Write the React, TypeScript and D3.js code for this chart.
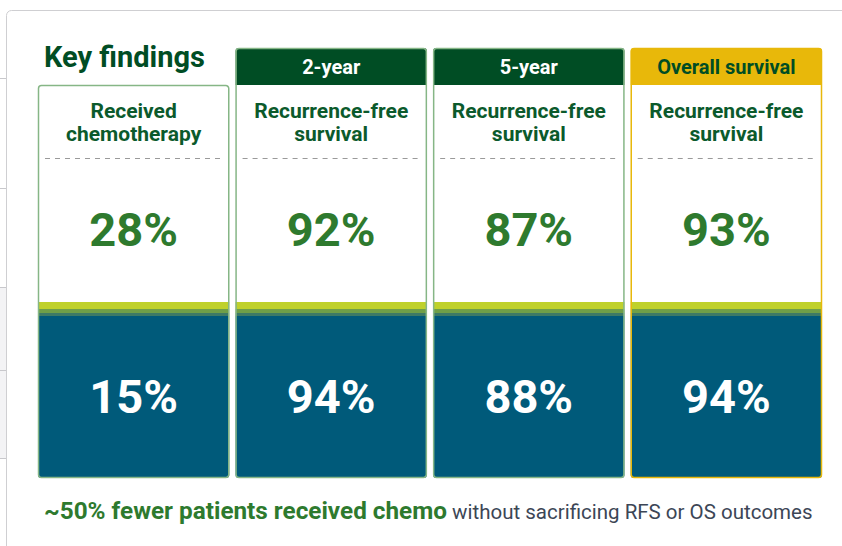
import React from 'react';
import * as d3 from 'd3';

const WIDTH = 842;
const HEIGHT = 546;

// data
const categories = ['chemo', 'rfs2', 'rfs5', 'os'];
const headers = ['', '2-year', '5-year', 'Overall survival'];
const subheads = [
  ['Received', 'chemotherapy'],
  ['Recurrence-free', 'survival'],
  ['Recurrence-free', 'survival'],
  ['Recurrence-free', 'survival'],
];
const topValues = [28, 92, 87, 93];
const bottomValues = [15, 94, 88, 94];
const sideLines = [78, 188, 287, 370, 458];

const FONT = "Roboto, 'Open Sans', sans-serif";
const DARK_GREEN = '#004d24';
const TEXT_GREEN = '#0b5a2c';
const VALUE_GREEN = '#2e7a2e';
const BLUE = '#005a7a';
const YELLOW = '#e8b80a';
const BORDER_GREEN = '#86b686';

const HEADER_TOP = 48;
const BOX_TOP = 85;
const BOX_BOTTOM = 478;
const STRIPE_TOP = 302;

// rounded rect path with per-corner radius flags
function roundPath(x: number, y: number, w: number, h: number, r: number, top: boolean, bottom: boolean) {
  const p = d3.path();
  const rt = top ? r : 0;
  const rb = bottom ? r : 0;
  p.moveTo(x + rt, y);
  p.lineTo(x + w - rt, y);
  if (rt) p.arcTo(x + w, y, x + w, y + rt, rt);
  p.lineTo(x + w, y + h - rb);
  if (rb) p.arcTo(x + w, y + h, x + w - rb, y + h, rb);
  p.lineTo(x + rb, y + h);
  if (rb) p.arcTo(x, y + h, x, y + h - rb, rb);
  p.lineTo(x, y + rt);
  if (rt) p.arcTo(x, y, x + rt, y, rt);
  p.closePath();
  return p.toString();
}

export default function App() {
  const x = d3.scaleBand<string>()
    .domain(categories)
    .range([38, 822])
    .paddingInner(0.032)
    .paddingOuter(0);
  const bw = x.bandwidth();
  const y = d3.scaleLinear().domain([0, 1]).range([STRIPE_TOP, BOX_BOTTOM]);
  const fmt = (v: number) => `${v}%`;

  return (
    <svg width={WIDTH} height={HEIGHT} style={{ position: 'absolute', left: 0, top: 0 }}
      xmlns="http://www.w3.org/2000/svg">
      <rect x={0} y={0} width={WIDTH} height={HEIGHT} fill="#fff" />
      {/* page behind the card */}
      <rect x={0} y={287} width={6} height={171} fill="#f3f3f5" />
      {sideLines.map((ly) => (
        <line key={ly} x1={0} x2={6} y1={ly + 0.5} y2={ly + 0.5} stroke="#c8c8cc" />
      ))}
      <rect x={6.5} y={10.5} width={WIDTH + 20} height={HEIGHT + 20} rx={5} fill="#fff" stroke="#cfcfd2" />

      <text x={44} y={67} fontFamily={FONT} fontWeight={700} fontSize={29} fill={DARK_GREEN}>Key findings</text>

      {categories.map((c, i) => {
        const x0 = x(c)!;
        const isOs = i === 3;
        const hasHeader = headers[i] !== '';
        const top = hasHeader ? HEADER_TOP : BOX_TOP;
        const stroke = isOs ? YELLOW : BORDER_GREEN;
        const cx = x0 + bw / 2;
        return (
          <g key={c}>
            <path d={roundPath(x0, top, bw, BOX_BOTTOM - top, 3, true, true)} fill="#fff" />
            {hasHeader && (
              <path d={roundPath(x0, HEADER_TOP, bw, BOX_TOP - HEADER_TOP, 3, true, false)}
                fill={isOs ? YELLOW : DARK_GREEN} />
            )}
            {hasHeader && (
              <text x={cx} y={74} textAnchor="middle" fontFamily={FONT} fontWeight={700} fontSize={20}
                fill={isOs ? DARK_GREEN : '#fff'}>{headers[i]}</text>
            )}
            {subheads[i].map((s, j) => (
              <text key={j} x={cx} y={118 + j * 23} textAnchor="middle" fontFamily={FONT} fontWeight={700}
                fontSize={21} fill={TEXT_GREEN}>{s}</text>
            ))}
            <line x1={x0 + 7} x2={x0 + bw - 7} y1={158.5} y2={158.5} stroke="#9a9a9a" strokeDasharray="5,5" />
            <text x={cx} y={246} textAnchor="middle" fontFamily={FONT} fontWeight={700} fontSize={47}
              fill={VALUE_GREEN}>{fmt(topValues[i])}</text>

            {/* stripes + blue panel */}
            <rect x={x0} y={y(0)} width={bw} height={7} fill="#bfd12b" />
            <rect x={x0} y={y(0) + 7} width={bw} height={4} fill="#6f9f48" />
            <rect x={x0} y={y(0) + 11} width={bw} height={3} fill="#3d7a66" />
            <path d={roundPath(x0, y(0) + 14, bw, y(1) - y(0) - 14, 3, false, true)} fill={BLUE} />
            <text x={cx} y={413} textAnchor="middle" fontFamily={FONT} fontWeight={700} fontSize={47}
              fill="#fff">{fmt(bottomValues[i])}</text>

            <path d={roundPath(x0 + 0.5, top + 0.5, bw - 1, BOX_BOTTOM - top - 1, 3, true, true)}
              fill="none" stroke={stroke} strokeWidth={1.5} />
          </g>
        );
      })}

      <text x={44} y={519} fontFamily={FONT}>
        <tspan fontWeight={700} fill={VALUE_GREEN} fontSize={24.3}>~50% fewer patients received chemo</tspan>
        <tspan fill="#3c4656" fontSize={20.5}> without sacrificing RFS or OS outcomes</tspan>
      </text>
    </svg>
  );
}
